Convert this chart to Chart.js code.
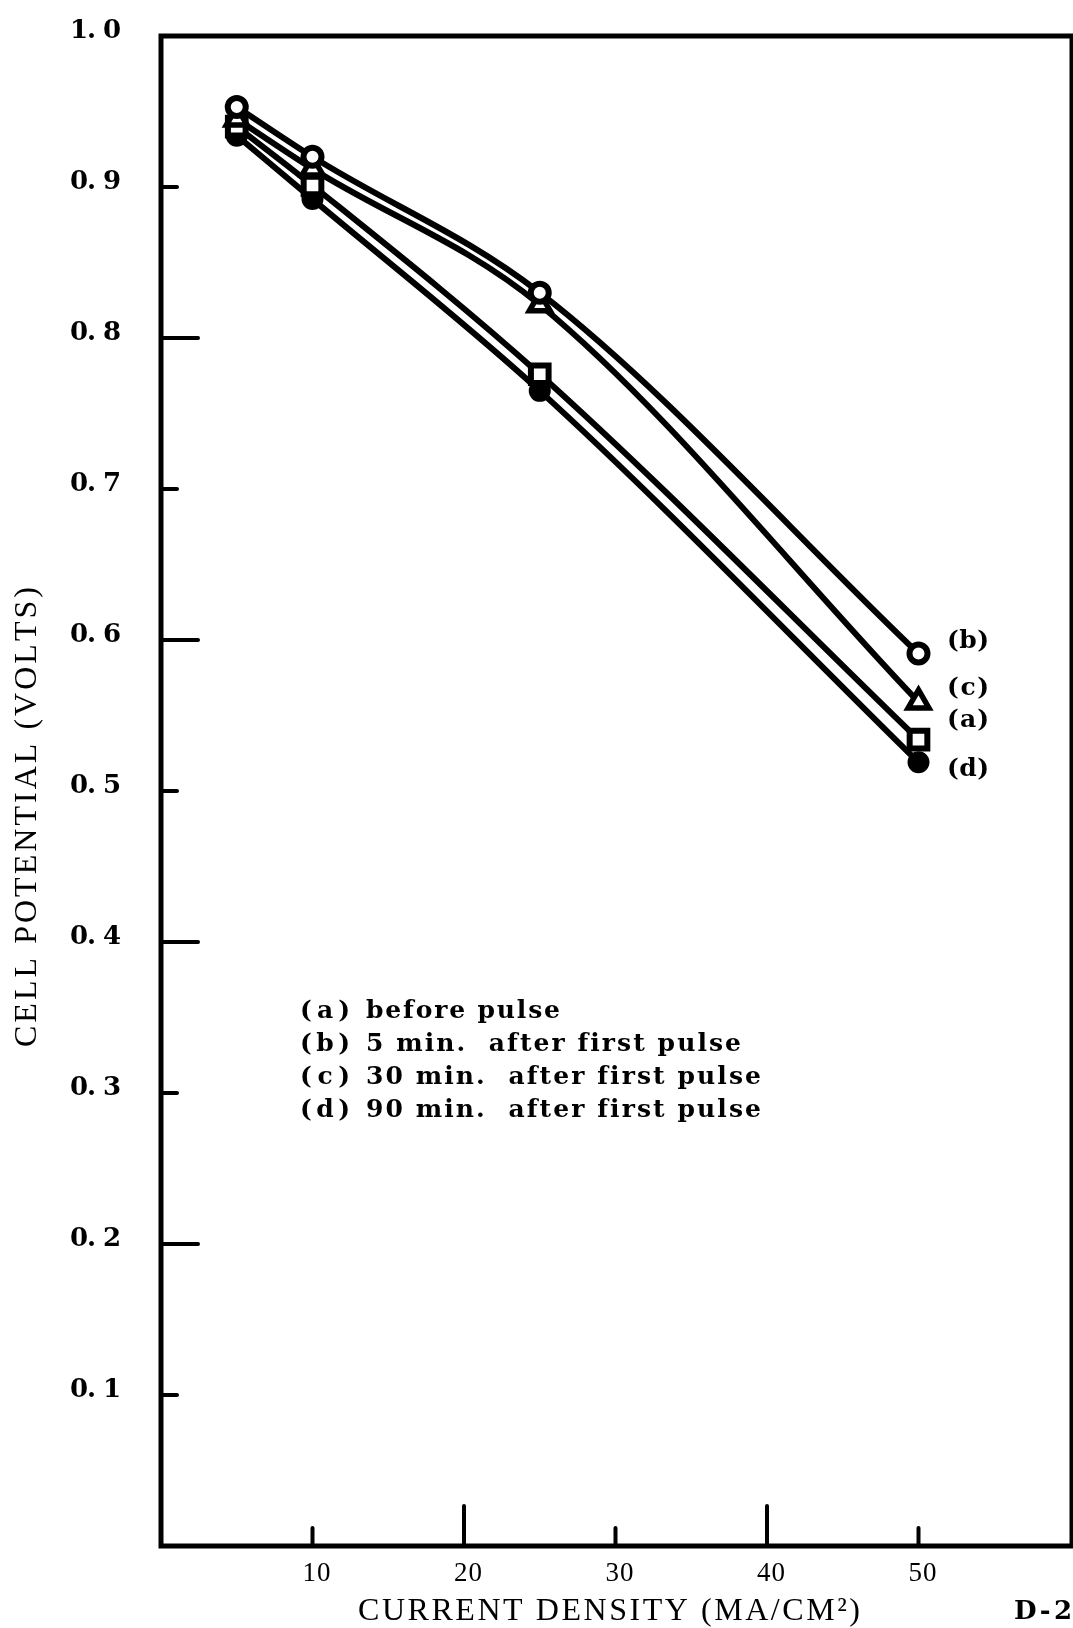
<!DOCTYPE html>
<html><head><meta charset="utf-8">
<script src="https://cdn.jsdelivr.net/npm/chart.js@4.4.0/dist/chart.umd.min.js"></script>
<style>html,body{margin:0;padding:0;background:#fff;overflow:hidden}canvas{display:block}</style>
</head><body>
<canvas id="c" width="1073" height="1628"></canvas>
<script>
// ---- data ----
const currentDensity = [5, 10, 25, 50];
const seriesA = [0.940, 0.901, 0.776, 0.534]; // (a) before pulse
const seriesB = [0.953, 0.920, 0.830, 0.591]; // (b) 5 min after first pulse
const seriesC = [0.945, 0.912, 0.822, 0.559]; // (c) 30 min after first pulse
const seriesD = [0.934, 0.892, 0.765, 0.519]; // (d) 90 min after first pulse
const seriesTags = ['(a)', '(b)', '(c)', '(d)'];
const legendTexts = ['before pulse', '5 min.  after first pulse', '30 min.  after first pulse', '90 min.  after first pulse'];
const xTickValues = [10, 20, 30, 40, 50];
const xTickLabels = ['10', '20', '30', '40', '50'];
const yTickValues = [0.1, 0.2, 0.3, 0.4, 0.5, 0.6, 0.7, 0.8, 0.9, 1.0];
const yTickLabels = ['0. 1', '0. 2', '0. 3', '0. 4', '0. 5', '0. 6', '0. 7', '0. 8', '0. 9', '1. 0'];
const xTitle = 'CURRENT DENSITY (MA/CM²)';
const yTitle = 'CELL POTENTIAL (VOLTS)';
const figureCode = 'D-2';

function pts(ys) { return currentDensity.map((x, i) => ({x: x, y: ys[i]})); }

function drawSpaced(ctx, str, x, y, width, align) {
  const chars = Array.from(str);
  const ws = chars.map(c => ctx.measureText(c).width);
  const nat = ws.reduce((a, b) => a + b, 0);
  const extra = chars.length > 1 ? (width - nat) / (chars.length - 1) : 0;
  let cx = align === 'center' ? x - width / 2 : (align === 'right' ? x - width : x);
  ctx.textAlign = 'left';
  chars.forEach((c, i) => { ctx.fillText(c, cx, y); cx += ws[i] + extra; });
}

const decor = {
  id: 'decor',
  afterDraw(chart) {
    const ctx = chart.ctx, a = chart.chartArea;
    const xs = chart.scales.x, ys = chart.scales.y;
    ctx.save();
    ctx.fillStyle = '#000'; ctx.strokeStyle = '#000';
    // frame
    ctx.lineWidth = 5; ctx.lineCap = 'square';
    ctx.strokeRect(a.left, a.top, a.right - a.left + 2, a.bottom - a.top);
    // ticks
    ctx.lineWidth = 4; ctx.lineCap = 'round';
    xTickValues.forEach((v) => {
      const px = xs.getPixelForValue(v);
      const len = (v % 20 === 0) ? 40 : 18;
      ctx.beginPath(); ctx.moveTo(px, a.bottom); ctx.lineTo(px, a.bottom - len); ctx.stroke();
    });
    yTickValues.forEach((v, i) => {
      if (v >= 1.0) return;
      const py = ys.getPixelForValue(v);
      const len = (i % 2 === 1) ? 37 : 16;
      ctx.beginPath(); ctx.moveTo(a.left, py); ctx.lineTo(a.left + len, py); ctx.stroke();
    });
    // y tick labels
    ctx.textBaseline = 'middle';
    ctx.font = 'bold 26px "DejaVu Serif"';
    yTickLabels.forEach((t, i) => {
      const py = ys.getPixelForValue(yTickValues[i]);
      drawSpaced(ctx, t, 121, py - 5, 51, 'right');
    });
    // x tick labels
    ctx.font = '27px "Liberation Serif"';
    xTickLabels.forEach((t, i) => {
      const px = xs.getPixelForValue(xTickValues[i]);
      drawSpaced(ctx, t, px + 4, 1574, 28, 'center');
    });
    // axis titles
    ctx.font = '32px "Liberation Serif"';
    drawSpaced(ctx, xTitle, 609, 1612, 502, 'center');
    ctx.font = 'bold 26px "DejaVu Serif"';
    drawSpaced(ctx, figureCode, 1014, 1612, 58, 'left');
    ctx.save();
    ctx.translate(28, 817); ctx.rotate(-Math.PI / 2);
    ctx.font = '32px "Liberation Serif"';
    drawSpaced(ctx, yTitle, 0, 0, 460, 'center');
    ctx.restore();
    // legend
    ctx.font = 'bold 25px "DejaVu Serif"';
    const legY = [1011, 1044, 1077, 1110];
    const legW = [194, 375, 395, 395];
    seriesTags.forEach((t, i) => {
      drawSpaced(ctx, t, 300, legY[i], 50, 'left');
      drawSpaced(ctx, legendTexts[i], 366, legY[i], legW[i], 'left');
    });
    // end labels
    ctx.font = 'bold 25px "DejaVu Serif"';
    const endY = [720, 641, 688, 769];
    seriesTags.forEach((t, i) => drawSpaced(ctx, t, 947, endY[i], 42, 'left'));
    ctx.restore();
  }
};

const base = {showLine: true, borderColor: '#000', borderWidth: 6, pointBorderColor: '#000', fill: false,
  cubicInterpolationMode: 'monotone'};

new Chart(document.getElementById('c'), {
  type: 'scatter',
  data: {
    datasets: [
      Object.assign({}, base, {label: seriesTags[0], data: pts(seriesA), order: 2,
        pointStyle: 'rect', pointRadius: 12.5, pointBorderWidth: 6, pointBackgroundColor: '#fff'}),
      Object.assign({}, base, {label: seriesTags[1], data: pts(seriesB), order: 0,
        pointStyle: 'circle', pointRadius: 9, pointBorderWidth: 6, pointBackgroundColor: '#fff'}),
      Object.assign({}, base, {label: seriesTags[2], data: pts(seriesC), order: 1,
        pointStyle: 'triangle', pointRadius: 12, pointBorderWidth: 5.5, pointBackgroundColor: '#fff'}),
      Object.assign({}, base, {label: seriesTags[3], data: pts(seriesD), order: 3,
        pointStyle: 'circle', pointRadius: 9.5, pointBorderWidth: 3, pointBackgroundColor: '#000'})
    ]
  },
  options: {
    responsive: false, animation: false, devicePixelRatio: 1,
    layout: {autoPadding: false, padding: {left: 161, right: 3, top: 36, bottom: 82}},
    plugins: {legend: {display: false}, tooltip: {enabled: false}},
    scales: {
      x: {type: 'linear', min: 0, max: 60, display: false},
      y: {type: 'linear', min: 0, max: 1.0, display: false}
    }
  },
  plugins: [decor]
});
</script>
</body></html>
